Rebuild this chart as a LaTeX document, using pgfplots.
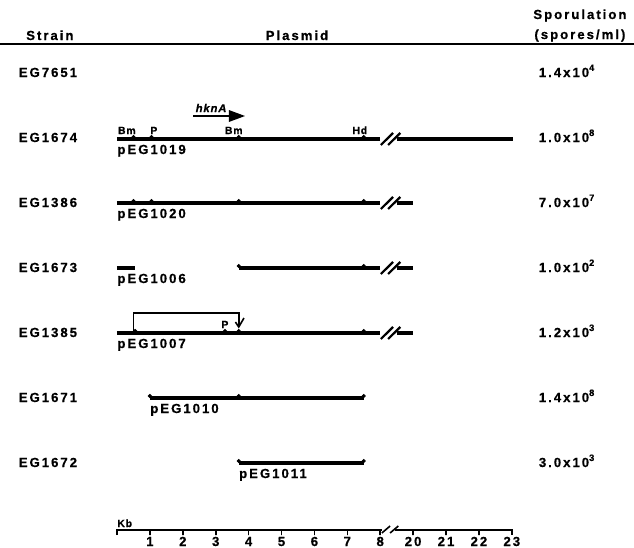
\documentclass[border=0pt]{standalone}
\usepackage{pgfplots}
\pgfplotsset{compat=1.18}
\usepackage{fontspec}
\setmainfont{Liberation Sans}[LetterSpace=15, BoldFeatures={FakeBold=0.6}]
\newfontfamily\sitefont{Liberation Sans}[LetterSpace=8, BoldFeatures={FakeBold=0.5}, BoldItalicFeatures={FakeBold=0.5}]
\tikzset{
  main/.style={black, line width=1.6pt},
  brk/.style={black, line width=1.1pt},
  thin/.style={black, line width=0.8pt},
  site/.style={black, only marks, mark=*, mark size=0.8pt},
  lbl/.style={anchor=base, inner sep=0pt, font=\fontsize{6.6}{7.5}\selectfont\bfseries},
  plbl/.style={anchor=base west, inner sep=0pt, font=\fontsize{6.6}{7.5}\selectfont\bfseries},
  slbl/.style={anchor=base, inner sep=0pt, font=\fontsize{5.2}{6}\selectfont\sitefont\bfseries},
}
\begin{document}
\begin{tikzpicture}
\begin{axis}[scale only axis, width=317pt, height=273.5pt,
  xmin=-3.556, xmax=15.714, ymin=-547, ymax=0, hide axis, clip=false,
  every axis plot/.append style={no markers},
]
% x: kb (positions right of the break: 20..23 kb drawn at 9..12), y: -pixel row
% header
\addplot[black, line width=1.2pt] coordinates {(-3.556,-44) (15.714,-44)};
\node[lbl] at (-2.04,-40) {Strain};
\node[lbl] at (5.47,-40) {Plasmid};
\node[lbl] at (14.07,-19) {Sporulation};
\node[lbl] at (14.07,-39) {(spores/ml)};
% strains
\node[lbl] at (-2.10,-77) {EG7651};
\node[lbl] at (-2.10,-142) {EG1674};
\node[lbl] at (-2.10,-207) {EG1386};
\node[lbl] at (-2.10,-272) {EG1673};
\node[lbl] at (-2.10,-337) {EG1385};
\node[lbl] at (-2.10,-402) {EG1671};
\node[lbl] at (-2.10,-467) {EG1672};
% sporulation
\node[lbl] at (13.68,-77) {1.4x10\textsuperscript{4}};
\node[lbl] at (13.68,-142) {1.0x10\textsuperscript{8}};
\node[lbl] at (13.68,-207) {7.0x10\textsuperscript{7}};
\node[lbl] at (13.68,-272) {1.0x10\textsuperscript{2}};
\node[lbl] at (13.68,-337) {1.2x10\textsuperscript{3}};
\node[lbl] at (13.68,-402) {1.4x10\textsuperscript{8}};
\node[lbl] at (13.68,-467) {3.0x10\textsuperscript{3}};
% pEG1019
\addplot[main] coordinates {(0,-139) (8.0,-139)};
\addplot[main] coordinates {(8.5,-139) (12.05,-139)};
\addplot[brk] coordinates {(8.02,-145) (8.39,-133)};
\addplot[brk] coordinates {(8.24,-145) (8.61,-133)};
\addplot[site] coordinates {(0.5,-137) (1.05,-137) (3.7,-137) (7.5,-137)};
\node[slbl] at (0.3,-134) {Bm};
\node[slbl] at (1.12,-134) {P};
\node[slbl] at (3.55,-134) {Bm};
\node[slbl] at (7.38,-134) {Hd};
\node[plbl] at (0,-154) {pEG1019};
\node[anchor=base, inner sep=0pt, font=\fontsize{5.6}{6.5}\selectfont\sitefont\bfseries\itshape] at (2.86,-112) {hknA};
\addplot[black, line width=1.2pt] coordinates {(2.31,-116) (3.45,-116)};
\addplot[black, fill=black, draw=none] coordinates {(3.40,-110) (3.89,-116) (3.40,-122)} -- cycle;
% pEG1020
\addplot[main] coordinates {(0,-203) (8.0,-203)};
\addplot[main] coordinates {(8.5,-203) (9.0,-203)};
\addplot[brk] coordinates {(8.02,-209) (8.39,-197)};
\addplot[brk] coordinates {(8.24,-209) (8.61,-197)};
\addplot[site] coordinates {(0.5,-201) (1.05,-201) (3.7,-201) (7.5,-201)};
\node[plbl] at (0,-218) {pEG1020};
% pEG1006
\addplot[main] coordinates {(0,-268) (0.55,-268)};
\addplot[main] coordinates {(3.7,-268) (8.0,-268)};
\addplot[main] coordinates {(8.5,-268) (9.0,-268)};
\addplot[brk] coordinates {(8.02,-274) (8.39,-262)};
\addplot[brk] coordinates {(8.24,-274) (8.61,-262)};
\addplot[site] coordinates {(3.7,-266) (7.5,-266)};
\node[plbl] at (0,-283) {pEG1006};
% pEG1007
\addplot[main] coordinates {(0,-333) (8.0,-333)};
\addplot[main] coordinates {(8.5,-333) (9.0,-333)};
\addplot[brk] coordinates {(8.02,-339) (8.39,-327)};
\addplot[brk] coordinates {(8.24,-339) (8.61,-327)};
\addplot[site] coordinates {(0.55,-331) (3.28,-331) (3.7,-331) (7.5,-331)};
\addplot[thin] coordinates {(0.5,-333) (0.5,-313) (3.7,-313) (3.7,-326)};
\addplot[thin] coordinates {(3.6,-322) (3.7,-327) (3.86,-318)};
\node[slbl] at (3.28,-328) {P};
\node[plbl] at (0,-348) {pEG1007};
% pEG1010
\addplot[main] coordinates {(1.0,-398) (7.5,-398)};
\addplot[site] coordinates {(1.0,-396) (3.7,-396) (7.5,-396)};
\node[plbl] at (1.0,-413) {pEG1010};
% pEG1011
\addplot[main] coordinates {(3.7,-463) (7.5,-463)};
\addplot[site] coordinates {(3.7,-461) (7.5,-461)};
\node[plbl] at (3.7,-478) {pEG1011};
% scale bar
\addplot[thin] coordinates {(0,-535) (0,-530) (1,-530) (1,-535) (1,-530) (2,-530) (2,-535) (2,-530)
  (3,-530) (3,-535) (3,-530) (4,-530) (4,-535) (4,-530) (5,-530) (5,-535) (5,-530)
  (6,-530) (6,-535) (6,-530) (7,-530) (7,-535) (7,-530) (8,-530) (8,-535) (8,-530) (8.05,-530)};
\addplot[thin] coordinates {(8.45,-530) (9,-530) (9,-535) (9,-530) (10,-530) (10,-535) (10,-530)
  (11,-530) (11,-535) (11,-530) (12,-530) (12,-535)};
\addplot[thin] coordinates {(8.05,-533) (8.3,-526)};
\addplot[thin] coordinates {(8.3,-533) (8.55,-526)};
\node[slbl, anchor=base west] at (0,-527) {Kb};
\node[lbl] at (1,-546) {1};
\node[lbl] at (2,-546) {2};
\node[lbl] at (3,-546) {3};
\node[lbl] at (4,-546) {4};
\node[lbl] at (5,-546) {5};
\node[lbl] at (6,-546) {6};
\node[lbl] at (7,-546) {7};
\node[lbl] at (8,-546) {8};
\node[lbl] at (9,-546) {20};
\node[lbl] at (10,-546) {21};
\node[lbl] at (11,-546) {22};
\node[lbl] at (12,-546) {23};
\end{axis}
\pgfresetboundingbox
\useasboundingbox (current axis.south west) rectangle (current axis.north east);
\end{tikzpicture}
\end{document}
